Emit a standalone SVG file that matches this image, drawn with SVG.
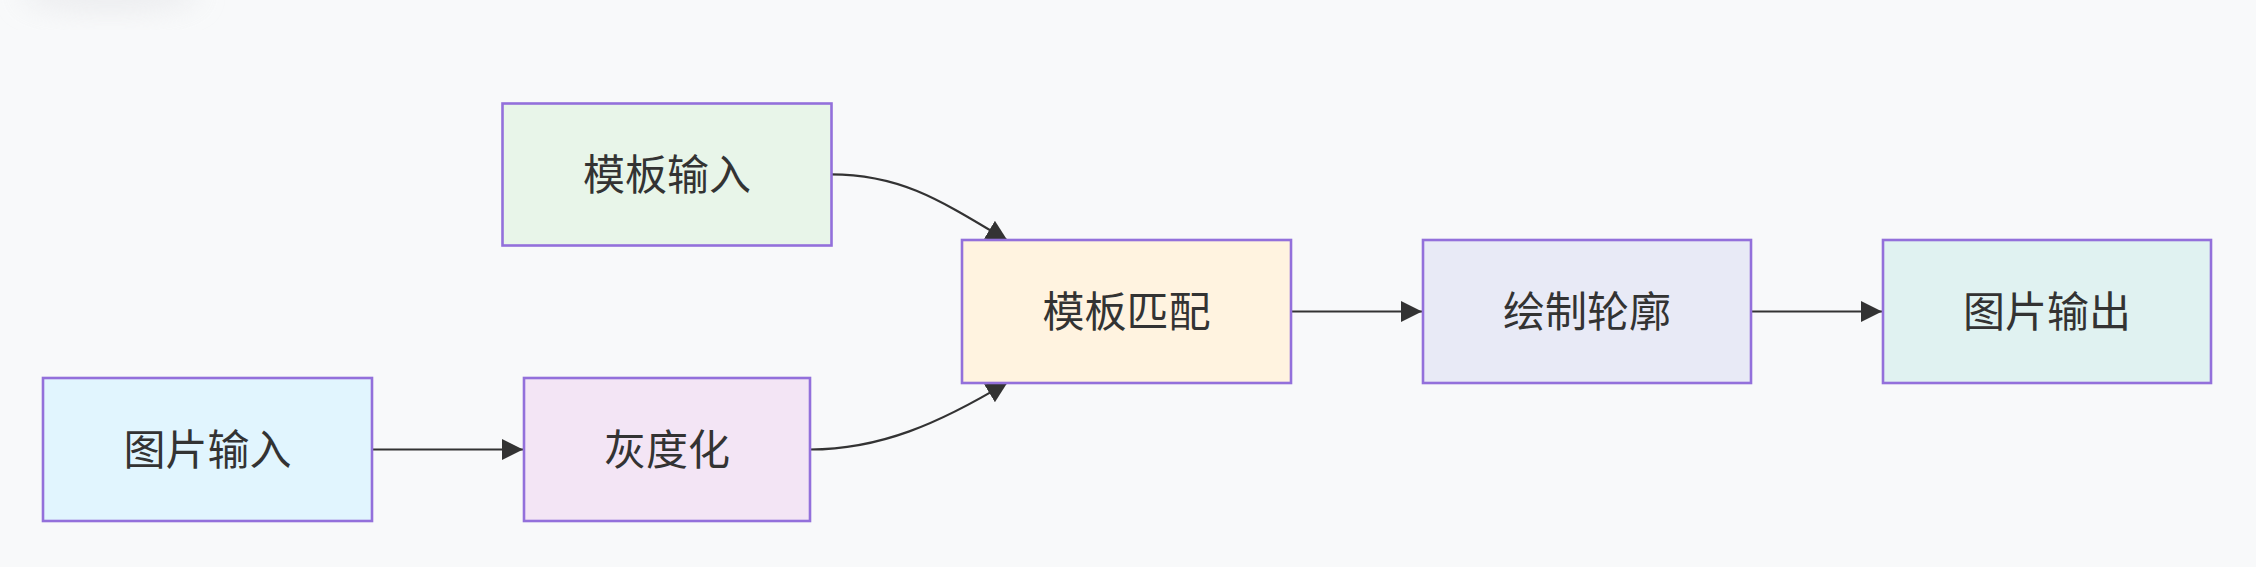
<svg xmlns="http://www.w3.org/2000/svg" width="2256" height="567" viewBox="0 0 2256 567">
<style>
.node rect{stroke:#9370DB;stroke-width:2.6}
.node text{font-family:"Noto Sans CJK SC","Noto Sans",sans-serif;font-size:42px;fill:#333;text-anchor:middle;dominant-baseline:central}
.edge{fill:none;stroke:#333;stroke-width:2.2}
</style>
<defs>
<marker id="arrow" viewBox="0 0 10 10" refX="10" refY="5" markerWidth="21" markerHeight="21" markerUnits="userSpaceOnUse" orient="auto">
<path d="M0,0 L10,5 L0,10 z" fill="#333"/>
</marker>
<filter id="blur" x="-50%" y="-50%" width="200%" height="200%"><feGaussianBlur stdDeviation="14"/></filter>
</defs>
<rect width="2256" height="567" fill="#f8f9fa"/>
<ellipse cx="110" cy="-6" rx="90" ry="18" fill="#e6e7ea" opacity="0.7" filter="url(#blur)"/>
<g id="connectors">
<path class="edge" d="M372,449.5 L523,449.5" marker-end="url(#arrow)"/>
<path class="edge" d="M831,174.3 C900,174.3 939,199.4 1007.5,240.6" marker-end="url(#arrow)"/>
<path class="edge" d="M810,449.5 C880,449.5 939,423.6 1007.5,382.4" marker-end="url(#arrow)"/>
<path class="edge" d="M1291,311.5 L1422,311.5" marker-end="url(#arrow)"/>
<path class="edge" d="M1751,311.5 L1882,311.5" marker-end="url(#arrow)"/>
</g>
<g id="node-template-input" class="node">
<rect x="502.5" y="103.5" width="329" height="142" fill="#e8f5e9"/>
<text x="667" y="171">模板输入</text>
</g>
<g id="node-image-input" class="node">
<rect x="43" y="378" width="329" height="143" fill="#e1f5fe"/>
<text x="207.5" y="446">图片输入</text>
</g>
<g id="node-grayscale" class="node">
<rect x="524" y="378" width="286" height="143" fill="#f3e5f5"/>
<text x="667" y="446">灰度化</text>
</g>
<g id="node-template-match" class="node">
<rect x="962" y="240" width="329" height="143" fill="#fff3e0"/>
<text x="1126.5" y="308">模板匹配</text>
</g>
<g id="node-draw-contour" class="node">
<rect x="1423" y="240" width="328" height="143" fill="#e8eaf6"/>
<text x="1587" y="308">绘制轮廓</text>
</g>
<g id="node-image-output" class="node">
<rect x="1883" y="240" width="328" height="143" fill="#e0f2f1"/>
<text x="2047" y="308">图片输出</text>
</g>
</svg>
